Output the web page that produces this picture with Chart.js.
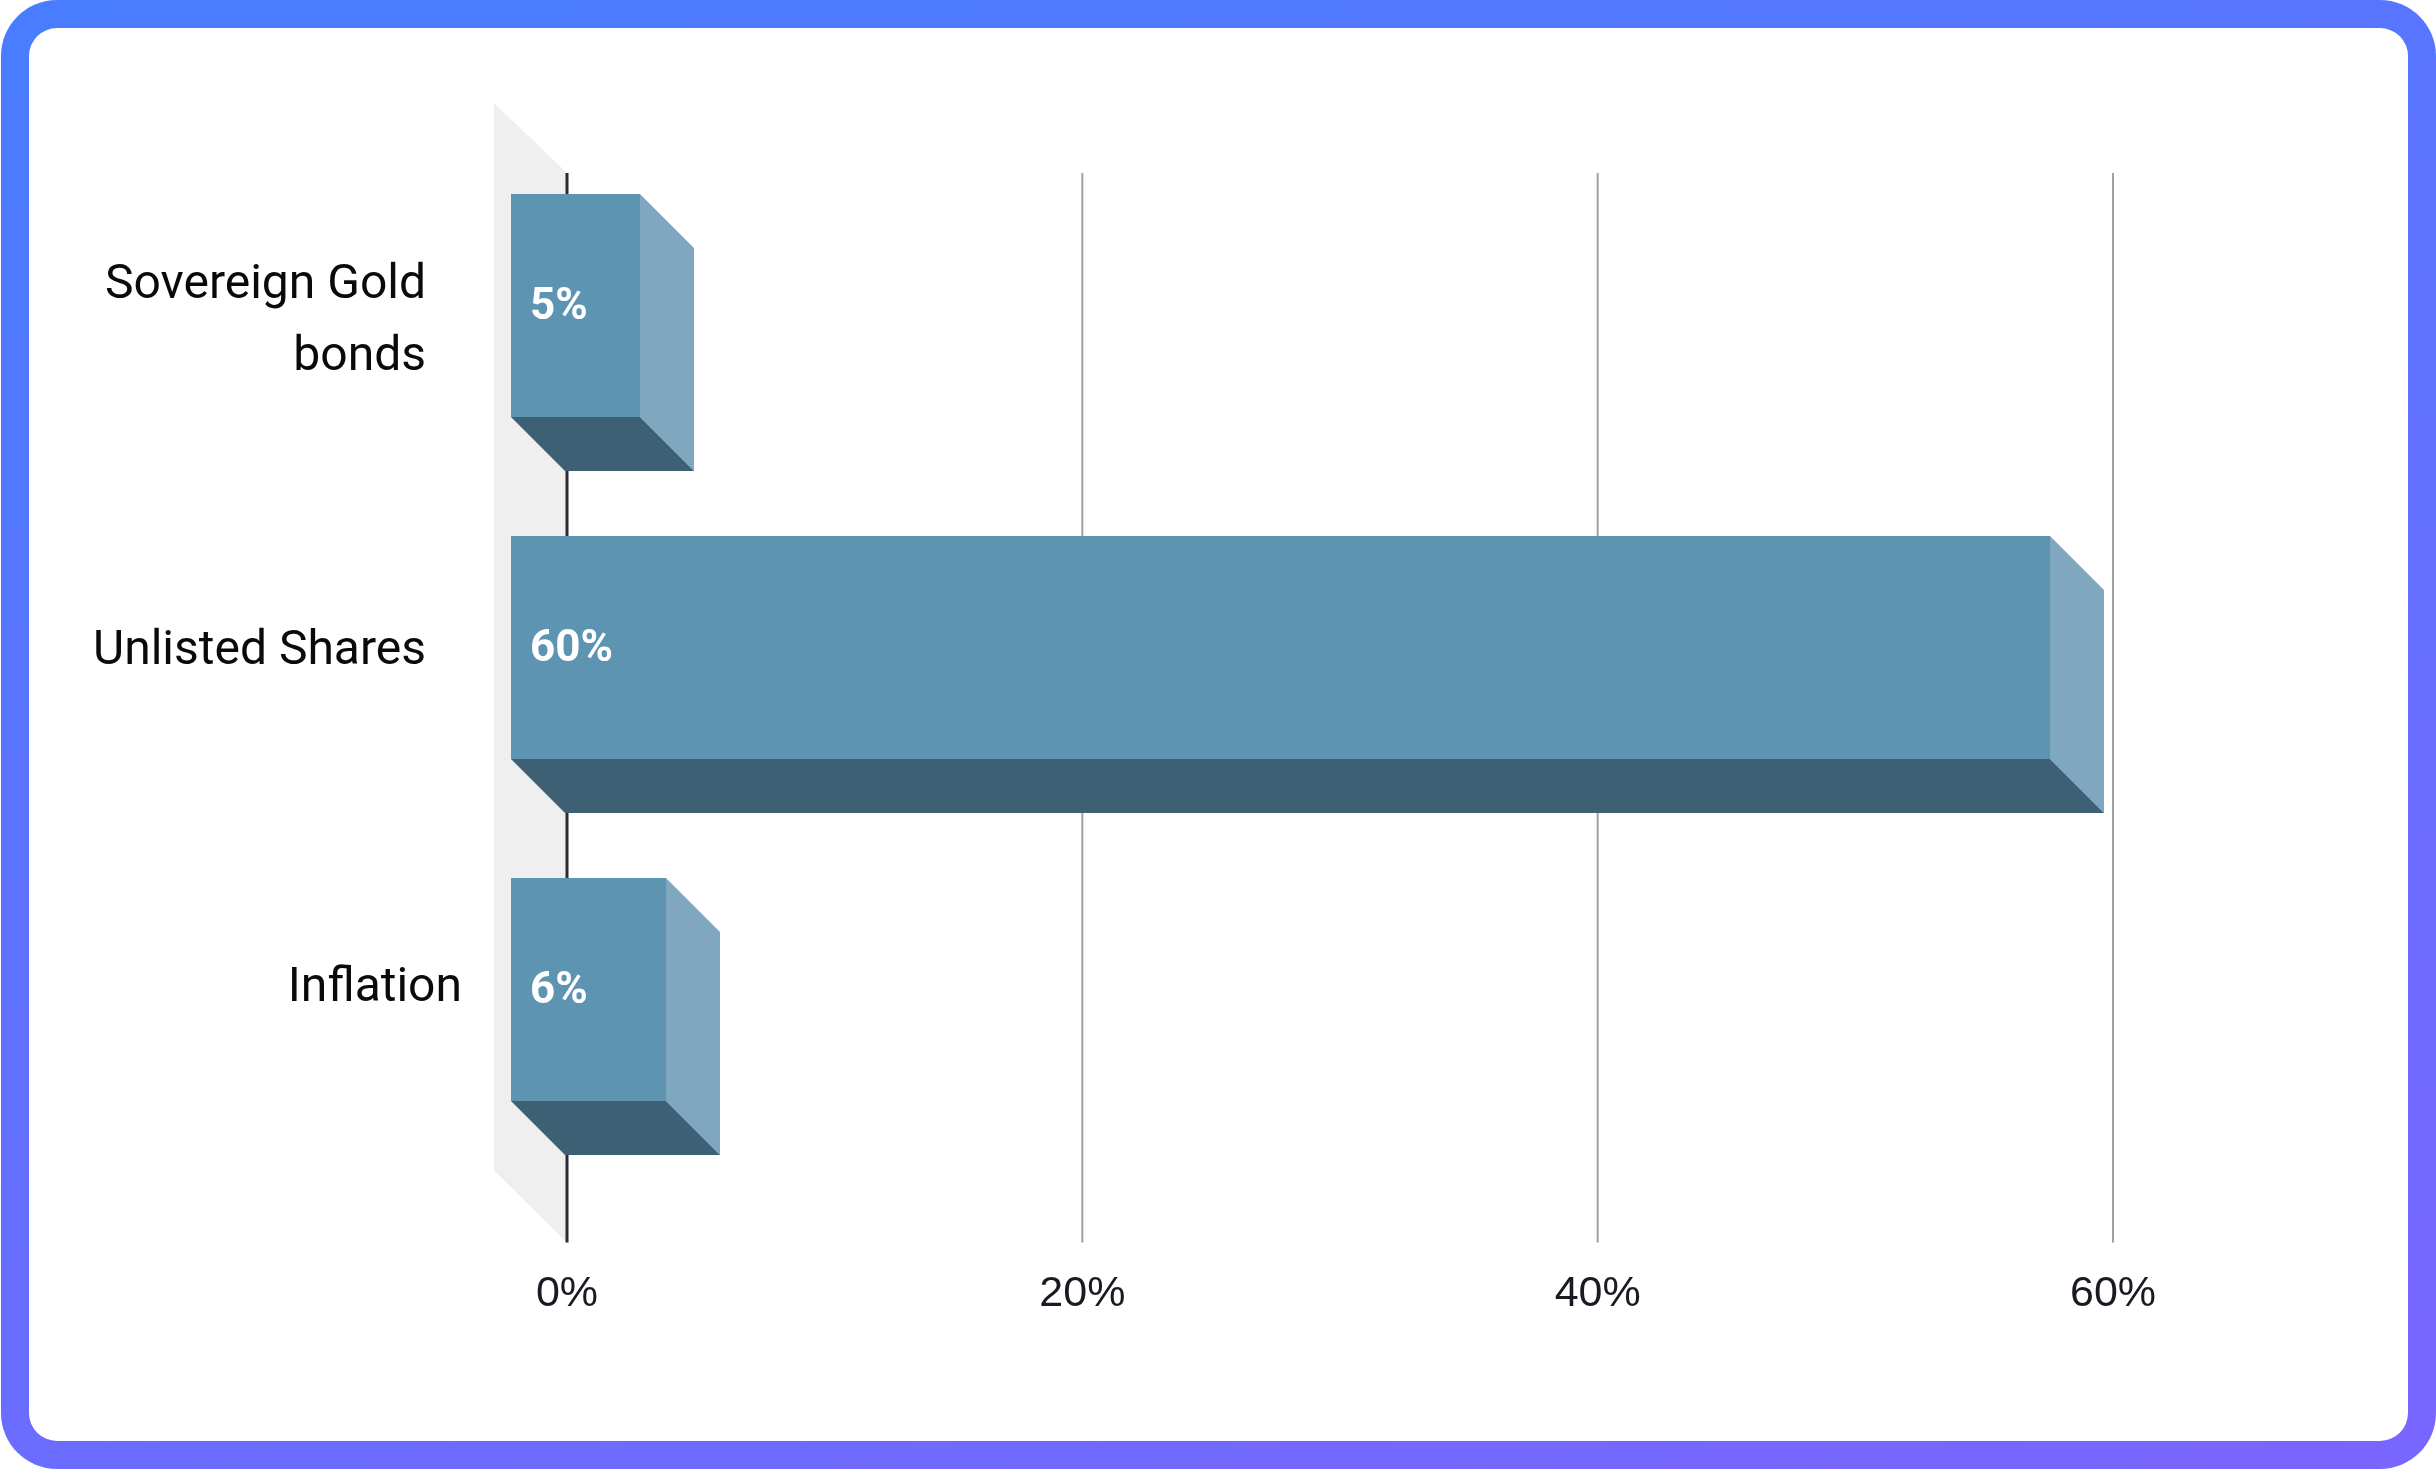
<!DOCTYPE html>
<html lang="en">
<head>
  <meta charset="UTF-8">
  <title>Allocation vs inflation</title>
  <script src="https://cdn.jsdelivr.net/npm/chart.js@4"></script>
  <style>
    html, body { margin: 0; padding: 0; background: #fff; }
    .frame {
      position: absolute; left: 1px; top: 0; width: 2435px; height: 1469px;
      box-sizing: border-box; padding: 28px; border-radius: 56px;
      background: linear-gradient(165deg, #487dff 0%, #7a65ff 100%);
    }
    .inner { position: relative; width: 100%; height: 100%; background: #fff; border-radius: 28px; }
    canvas { position: absolute; left: 0; top: 0; }
  </style>
</head>
<body>
  <div class="frame"><div class="inner"></div></div>
  <canvas id="chart" width="2436" height="1469" style="width:2436px;height:1469px"></canvas>

  <script>
    const categories = [['Sovereign Gold', 'bonds'], ['Unlisted Shares'], ['Inflation']]
    const values = [5, 60, 6]
    const valueLabels = ['5%', '60%', '6%']
    const xTicks = [0, 20, 40, 60]

    const depth = 54 // how far the front face sits up and left of the bar
    const labelRight = [426, 426, 462] // labels are not lined up in the original
    const labelCentre = [322, 652, 989]

    // flat 3d look: back wall, grid, then three faces for each bar
    const box3d = {
      id: 'box3d',
      beforeDatasetsDraw(chart) {
        const c = chart.ctx, a = chart.chartArea, x = chart.scales.x
        const top = a.top - 15, bottom = a.bottom + 28, x0 = x.getPixelForValue(0)
        c.save()
        c.fillStyle = '#f0efef'
        c.beginPath()
        c.moveTo(494, top - 70)
        c.lineTo(x0, top)
        c.lineTo(x0, bottom)
        c.lineTo(494, bottom - 72)
        c.fill()
        xTicks.forEach(t => {
          c.strokeStyle = t === 0 ? '#2c2a33' : '#a0a0a0'
          c.lineWidth = t === 0 ? 3 : 2
          c.beginPath()
          c.moveTo(x.getPixelForValue(t), top)
          c.lineTo(x.getPixelForValue(t), bottom)
          c.stroke()
        })
        c.restore()
      },
      afterDatasetsDraw(chart) {
        const c = chart.ctx, x0 = Math.round(chart.scales.x.getPixelForValue(0))
        c.save()
        chart.getDatasetMeta(0).data.forEach((bar, i) => {
          // the boxes stop slightly short of the tick positions in the original
          const r = Math.round(x0 + (bar.x - x0) * 0.995 - 1)
          const t = Math.round(bar.y - bar.height / 2), b = t + Math.round(bar.height)
          const fr = r - depth, fl = x0 - depth - 2, ft = t - depth, fb = b - depth
          poly(c, '#7fa8c0', [[fr, ft], [r, t], [r, b], [fr, fb]])
          poly(c, '#3e6074', [[fl, fb], [fr, fb], [r, b], [x0 - 2, b]])
          poly(c, '#5c94b2', [[fl, ft], [fr, ft], [fr, fb], [fl, fb]])
          c.fillStyle = '#fff'
          c.font = '700 44px Roboto'
          c.textAlign = 'left'
          c.textBaseline = 'middle'
          c.fillText(valueLabels[i], 530, (ft + fb) / 2 + 2)
        })
        c.fillStyle = '#0a0a0a'
        c.font = '48px Roboto'
        c.textAlign = 'right'
        categories.forEach((lines, i) => {
          lines.forEach((s, j) => {
            c.fillText(s, labelRight[i], labelCentre[i] + (j - (lines.length - 1) / 2) * 72)
          })
        })
        c.restore()
      }
    }

    function poly(c, color, pts) {
      c.fillStyle = color
      c.beginPath()
      pts.forEach((p, i) => i ? c.lineTo(p[0], p[1]) : c.moveTo(p[0], p[1]))
      c.closePath()
      c.fill()
    }

    new Chart(document.getElementById('chart'), {
      type: 'bar',
      plugins: [box3d],
      data: {
        labels: categories,
        datasets: [{ data: values, backgroundColor: 'rgba(0,0,0,0)', barThickness: 223 }]
      },
      options: {
        indexAxis: 'y',
        responsive: false,
        animation: false,
        layout: { padding: { left: 559, right: 323, top: 188, bottom: 103 } },
        plugins: { legend: { display: false }, tooltip: { enabled: false } },
        scales: {
          x: {
            min: 0,
            max: 60,
            afterBuildTicks(s) { s.ticks = xTicks.map(v => ({ value: v })) },
            grid: { display: false },
            border: { display: false },
            ticks: {
              color: '#1a1a22',
              font: { family: 'Liberation Sans', size: 43 },
              padding: 46,
              maxRotation: 0,
              callback: v => v + '%'
            }
          },
          y: {
            grid: { display: false },
            border: { display: false },
            ticks: { display: false }
          }
        }
      }
    })
  </script>
</body>
</html>
